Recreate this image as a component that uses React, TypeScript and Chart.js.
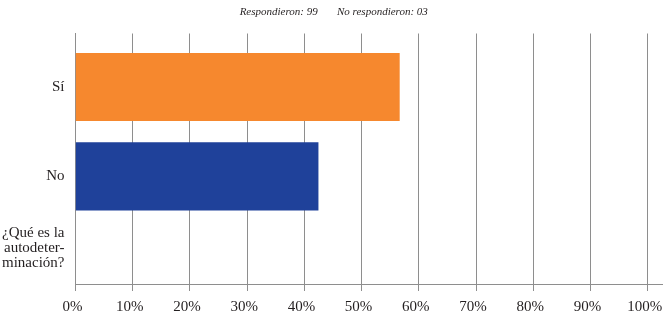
import React, { useEffect, useRef } from "react";
import { Chart, registerables } from "chart.js";

Chart.register(...registerables);

// ---- data ----
const CATEGORIES: (string | string[])[] = ["Sí", "No", ["¿Qué es la", "autodeter-", "minación?"]];
const VALUES: (number | null)[] = [56.6, 42.4, null];
const BAR_COLORS: string[] = ["#F6882E", "#1F419A", "#1F419A"];
const X_TICKS: number[] = [0, 10, 20, 30, 40, 50, 60, 70, 80, 90, 100];
const TITLE_TEXT = "  Respondieron: 99       No respondieron: 03";

// category slots along the (linear) vertical axis
const CATEGORY_SLOTS: number[] = [1, 2, 3];
const LABEL_SLOTS: number[] = [1, 2, 2.8];

const TEXT = "#231f20";
const GRID = "#8e8e8e";
const FONT = "'Liberation Serif', 'Times New Roman', serif";

export default function App() {
  const ref = useRef<HTMLCanvasElement | null>(null);

  useEffect(() => {
    if (!ref.current) return;
    const chart = new Chart(ref.current, {
      type: "bar",
      data: {
        datasets: [
          {
            data: VALUES.map((v, i) => ({ x: v as any, y: CATEGORY_SLOTS[i] })),
            backgroundColor: BAR_COLORS,
            borderWidth: 0,
            barThickness: 67.5,
          },
        ],
      },
      options: {
        indexAxis: "y",
        responsive: false,
        animation: false,
        events: [],
        layout: { padding: { left: 0, right: 1, top: 0, bottom: 0 } },
        plugins: {
          legend: { display: false },
          tooltip: { enabled: false },
          title: {
            display: true,
            text: TITLE_TEXT,
            color: TEXT,
            font: { family: FONT, size: 11, style: "italic", weight: "normal", lineHeight: 1.2 },
            padding: { top: 3.5, bottom: 14.3 },
          },
        },
        scales: {
          x: {
            type: "linear",
            position: "bottom",
            min: 0,
            max: 102.5,
            afterBuildTicks: (scale: any) => {
              scale.ticks = X_TICKS.map((v) => ({ value: v }));
            },
            afterFit: (scale: any) => {
              scale.height = 29;
              scale.paddingRight = 0;
              scale.paddingLeft = 0;
            },
            ticks: {
              color: TEXT,
              font: { family: FONT, size: 15, lineHeight: 1 },
              padding: 9,
              labelOffset: -3,
              maxRotation: 0,
              autoSkip: false,
              callback: (v: any) => `${v}%`,
            },
            grid: {
              color: GRID,
              lineWidth: 1,
              drawTicks: true,
              tickLength: 7,
              offset: false,
            },
            border: { display: true, color: GRID, width: 1 },
          },
          y: {
            type: "linear",
            reverse: true,
            min: 0.402,
            max: 3.204,
            offset: false,
            afterBuildTicks: (scale: any) => {
              scale.ticks = LABEL_SLOTS.map((v) => ({ value: v }));
            },
            afterFit: (scale: any) => {
              scale.width = 75.5;
            },
            ticks: {
              color: TEXT,
              font: { family: FONT, size: 15, lineHeight: 1 },
              padding: 11,
              autoSkip: false,
              callback: (_v: any, i: number) => CATEGORIES[i] as any,
            },
            grid: { display: false, drawTicks: false, offset: false },
            border: { display: true, color: GRID, width: 1 },
          },
        },
      } as any,
    });
    return () => chart.destroy();
  }, []);

  return (
    <div style={{ position: "fixed", left: 0, top: 0, width: 663, height: 313, background: "#fff" }}>
      <canvas ref={ref} width={663} height={313} style={{ display: "block" }} />
    </div>
  );
}
